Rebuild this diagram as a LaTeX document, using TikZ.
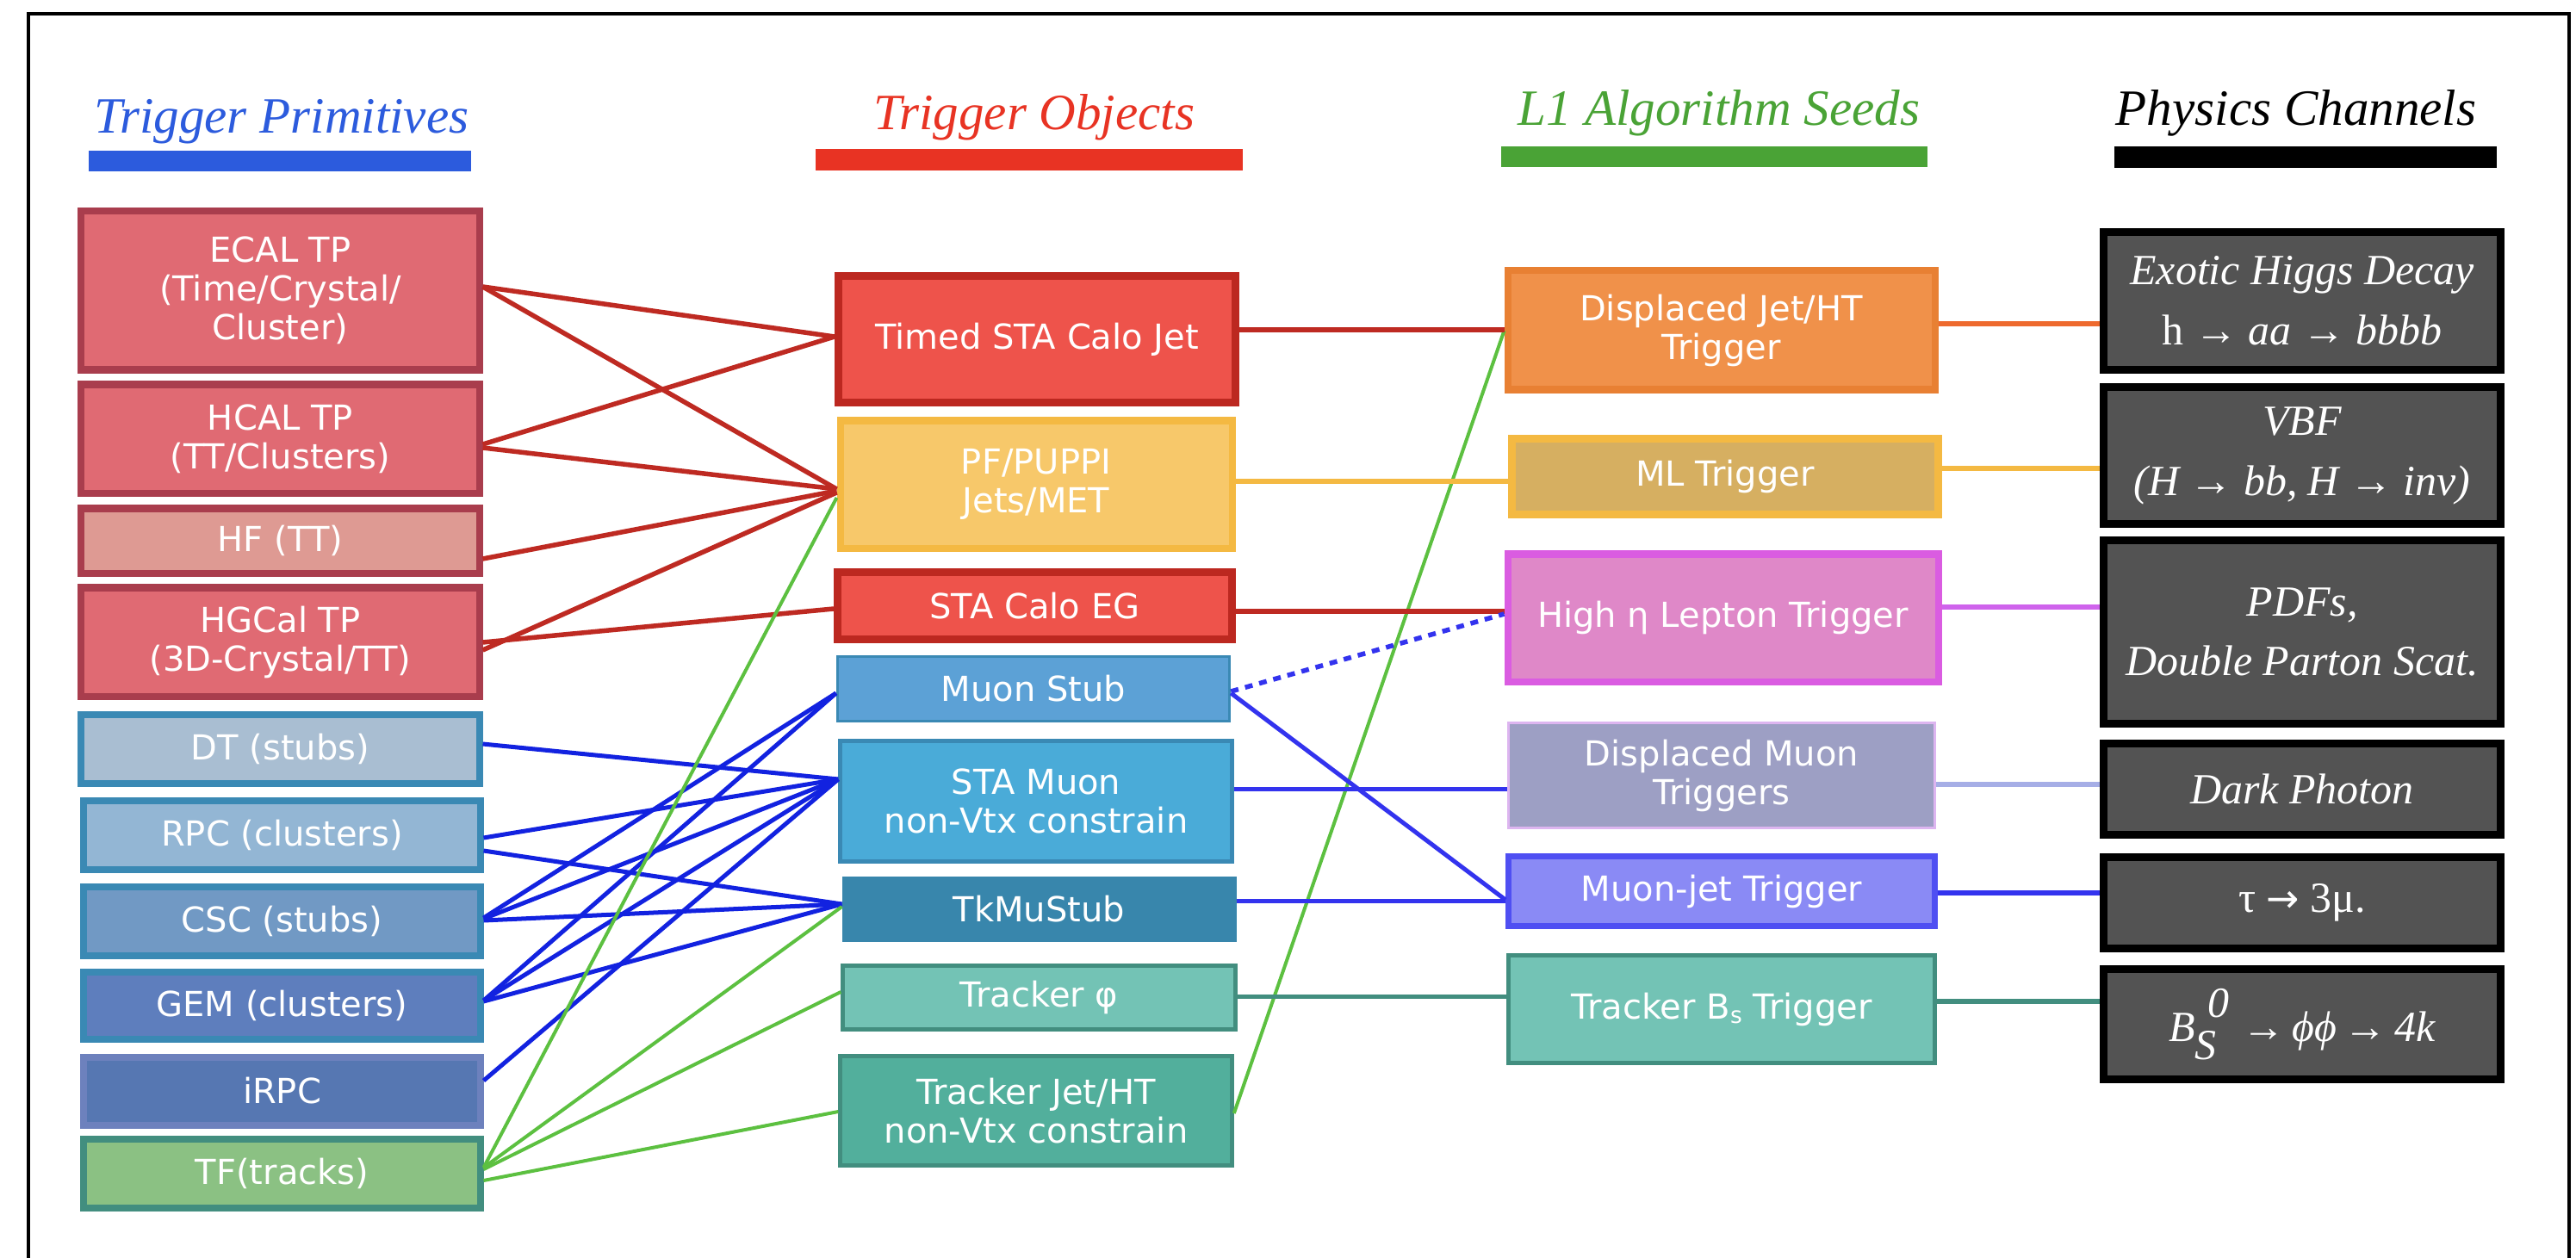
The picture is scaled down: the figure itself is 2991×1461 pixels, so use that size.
\documentclass[tikz,border=0pt]{standalone}
\usepackage{fontspec}
\setmainfont{DejaVu Sans}
\newfontfamily\serif{Liberation Serif}
\definecolor{hblue}{HTML}{2C5BDD}
\definecolor{hred}{HTML}{E83323}
\definecolor{hgreen}{HTML}{4AA336}
\definecolor{calofill}{HTML}{E06A73}
\definecolor{calodraw}{HTML}{A93D4D}
\definecolor{hffill}{HTML}{DE9A93}
\definecolor{mudraw}{HTML}{3A89B4}
\definecolor{dtfill}{HTML}{A9BED2}
\definecolor{rpcfill}{HTML}{93B6D4}
\definecolor{cscfill}{HTML}{7199C4}
\definecolor{gemfill}{HTML}{5E7EBD}
\definecolor{irpcfill}{HTML}{5677B2}
\definecolor{irpcdraw}{HTML}{6D81BD}
\definecolor{tffill}{HTML}{8BC183}
\definecolor{tealdraw}{HTML}{428E7F}
\definecolor{redfill}{HTML}{EE534B}
\definecolor{reddraw}{HTML}{BC2820}
\definecolor{pffill}{HTML}{F7C86A}
\definecolor{pfdraw}{HTML}{F4B942}
\definecolor{stubfill}{HTML}{5CA1D6}
\definecolor{stamufill}{HTML}{4AABD8}
\definecolor{tkmufill}{HTML}{3886AC}
\definecolor{phifill}{HTML}{73C3B5}
\definecolor{trjetfill}{HTML}{52AF9C}
\definecolor{djfill}{HTML}{F0914A}
\definecolor{djdraw}{HTML}{E88033}
\definecolor{mlfill}{HTML}{D6AF61}
\definecolor{etafill}{HTML}{DF88C8}
\definecolor{etadraw}{HTML}{DA5CE1}
\definecolor{dmufill}{HTML}{9D9FC4}
\definecolor{dmudraw}{HTML}{DDB5F0}
\definecolor{mjfill}{HTML}{8A8AF5}
\definecolor{mjdraw}{HTML}{4F4FF2}
\definecolor{chfill}{HTML}{535353}
\definecolor{lred}{HTML}{BE2A22}
\definecolor{lblue}{HTML}{1222E0}
\definecolor{lgreen}{HTML}{5CC040}
\definecolor{lorange}{HTML}{EE6A2E}
\definecolor{lmag}{HTML}{CF63EC}
\definecolor{llav}{HTML}{A6AEE6}
\definecolor{lblue2}{HTML}{3333EE}
\newcommand\bx[7]{%
  \pgfmathsetmacro\bxcx{(#3+#5)/2}%
  \pgfmathsetmacro\bxcy{(#4+#6)/2}%
  \pgfmathsetmacro\bxw{(#5-#3-7)*0.01}%
  \pgfmathsetmacro\bxh{(#6-#4-7)*0.01}%
  \node[#2, minimum width=\bxw cm, minimum height=\bxh cm] (#1) at (\bxcx,\bxcy) {#7};}
\begin{document}
\begin{tikzpicture}[x=0.01cm,y=-0.01cm,
  pbox/.style={draw, inner sep=0pt, align=center, text=white,
    font=\fontsize{11.38pt}{12.8pt}\selectfont},
  thick8/.style={line width=0.08cm},
  thin4/.style={line width=0.045cm},
  chbox/.style={pbox, fill=chfill, draw=black, line width=0.085cm,
    font=\serif\fontsize{14.2pt}{19.9pt}\selectfont},
  hdr/.style={anchor=base, inner sep=0pt, font=\serif\itshape\fontsize{16.8pt}{18pt}\selectfont},
  redl/.style={draw=lred, line width=0.055cm},
  bluel/.style={draw=lblue, line width=0.05cm},
  greenl/.style={draw=lgreen, line width=0.04cm}]
\useasboundingbox (0,0) rectangle (2991,1461);
\fill[white] (0,0) rectangle (2991,1461);
\draw[line width=0.045cm] (33,1461) -- (33,16) -- (2983,16) -- (2983,1461);
% headers
\node[hdr, text=hblue] (h1) at (327,155) {Trigger Primitives};
\node[hdr, text=hred] (h2) at (1201,151) {Trigger Objects};
\node[hdr, text=hgreen] (h3) at (1996,146) {L1 Algorithm Seeds};
\node[hdr, text=black] (h4) at (2666,146) {Physics Channels};
\fill[hblue] (103,175) rectangle (547,199);
\fill[hred] (947,173) rectangle (1443,198);
\fill[hgreen] (1743,170) rectangle (2238,194);
\fill[black] (2455,170) rectangle (2899,195);
% column 1
\bx{ecal}{pbox,thick8,fill=calofill,draw=calodraw}{91}{242}{560}{433}{ECAL TP\\(Time/Crystal/\\Cluster)}
\bx{hcal}{pbox,thick8,fill=calofill,draw=calodraw}{91}{443}{560}{576}{HCAL TP\\(TT/Clusters)}
\bx{hf}{pbox,thick8,fill=hffill,draw=calodraw}{91}{587}{560}{669}{HF (TT)}
\bx{hgcal}{pbox,thick8,fill=calofill,draw=calodraw}{91}{679}{560}{812}{HGCal TP\\(3D-Crystal/TT)}
\bx{dt}{pbox,thick8,fill=dtfill,draw=mudraw}{91}{826}{560}{913}{DT (stubs)}
\bx{rpc}{pbox,thick8,fill=rpcfill,draw=mudraw}{94}{926}{561}{1013}{RPC (clusters)}
\bx{csc}{pbox,thick8,fill=cscfill,draw=mudraw}{94}{1026}{561}{1113}{CSC (stubs)}
\bx{gem}{pbox,thick8,fill=gemfill,draw=mudraw}{94}{1125}{561}{1210}{GEM (clusters)}
\bx{irpc}{pbox,thick8,fill=irpcfill,draw=irpcdraw}{94}{1224}{561}{1310}{iRPC}
\bx{tf}{pbox,thick8,fill=tffill,draw=tealdraw}{94}{1319}{561}{1406}{TF(tracks)}
% column 2
\bx{timed}{pbox,line width=0.09cm,fill=redfill,draw=reddraw}{970}{317}{1438}{471}{Timed STA Calo Jet}
\bx{pf}{pbox,thick8,fill=pffill,draw=pfdraw}{972}{485}{1434}{640}{PF/PUPPI\\Jets/MET}
\bx{eg}{pbox,line width=0.09cm,fill=redfill,draw=reddraw}{969}{661}{1434}{746}{STA Calo EG}
\bx{mustub}{pbox,line width=0.035cm,fill=stubfill,draw=mudraw}{969}{759}{1431}{841}{Muon Stub}
\bx{stamu}{pbox,thin4,fill=stamufill,draw=mudraw}{972}{857}{1434}{1004}{STA Muon\\non-Vtx constrain}
\bx{tkmu}{pbox,line width=0.02cm,fill=tkmufill,draw=tkmufill}{975}{1015}{1438}{1096}{TkMuStub}
\bx{trphi}{pbox,thin4,fill=phifill,draw=tealdraw}{975}{1118}{1438}{1199}{Tracker φ}
\bx{trjet}{pbox,thin4,fill=trjetfill,draw=tealdraw}{972}{1223}{1434}{1357}{Tracker Jet/HT\\non-Vtx constrain}
% column 3
\bx{djet}{pbox,thick8,fill=djfill,draw=djdraw}{1747}{311}{2250}{456}{Displaced Jet/HT\\Trigger}
\bx{ml}{pbox,line width=0.09cm,fill=mlfill,draw=pfdraw}{1752}{506}{2254}{601}{ML Trigger}
\bx{heta}{pbox,thick8,fill=etafill,draw=etadraw}{1747}{640}{2254}{795}{High η Lepton Trigger}
\bx{dmu}{pbox,line width=0.03cm,fill=dmufill,draw=dmudraw}{1748}{836}{2250}{965}{Displaced Muon\\Triggers}
\bx{mujet}{pbox,line width=0.07cm,fill=mjfill,draw=mjdraw}{1748}{991}{2250}{1079}{Muon-jet Trigger}
\bx{trbs}{pbox,thin4,fill=phifill,draw=tealdraw}{1748}{1106}{2250}{1238}{Tracker B\raisebox{-0.25ex}{\fontsize{7.5pt}{8pt}\selectfont s} Trigger}
% column 4
\bx{exo}{chbox}{2439}{266}{2907}{433}{\textit{Exotic Higgs Decay}\\h → \textit{aa} → \textit{bbbb}}
\bx{vbf}{chbox}{2439}{446}{2907}{612}{\textit{VBF}\\\textit{(H → bb, H → inv)}}
\bx{pdf}{chbox}{2439}{624}{2907}{844}{\textit{PDFs,}\\\textit{Double Parton Scat.}}
\bx{dark}{chbox}{2439}{860}{2907}{973}{\textit{Dark Photon}}
\bx{tau}{chbox}{2439}{992}{2907}{1105}{τ {\normalfont\fontsize{13pt}{14pt}\selectfont →} 3μ.}
\bx{bs}{chbox}{2439}{1122}{2907}{1257}{\textit{B\rlap{\raisebox{-0.42em}{S}}\hspace{0.3em}\raisebox{0.55em}{0}\hspace{0.3em}→\,ϕϕ\,→\,4k}}
% connectors: primitives -> objects
\draw[redl] (ecal.east |- 0,333) -- (timed.west |- 0,391);
\draw[redl] (ecal.east |- 0,333) -- (pf.west |- 0,568);
\draw[redl] (hcal.east |- 0,516) -- (timed.west |- 0,391);
\draw[redl] (hcal.east |- 0,520) -- (pf.west |- 0,568);
\draw[redl] (hf.east |- 0,649) -- (pf.west |- 0,570);
\draw[redl] (hgcal.east |- 0,755) -- (pf.west |- 0,572);
\draw[redl] (hgcal.east |- 0,746) -- (eg.west |- 0,707);
\draw[bluel] (dt.east |- 0,864) -- (stamu.west |- 0,905);
\draw[bluel] (rpc.east |- 0,973) -- (stamu.west |- 0,905);
\draw[bluel] (rpc.east |- 0,988) -- (tkmu.west |- 0,1050);
\draw[bluel] (csc.east |- 0,1066) -- (mustub.west |- 0,805);
\draw[bluel] (csc.east |- 0,1067) -- (stamu.west |- 0,905);
\draw[bluel] (csc.east |- 0,1069) -- (tkmu.west |- 0,1050);
\draw[bluel] (gem.east |- 0,1162) -- (mustub.west |- 0,805);
\draw[bluel] (gem.east |- 0,1162) -- (stamu.west |- 0,905);
\draw[bluel] (gem.east |- 0,1163) -- (tkmu.west |- 0,1050);
\draw[bluel] (irpc.east |- 0,1255) -- (stamu.west |- 0,905);
\draw[greenl] (tf.east |- 0,1356) -- (pf.west |- 0,578);
\draw[greenl] (tf.east |- 0,1356) -- (tkmu.west |- 0,1053);
\draw[greenl] (tf.east |- 0,1358) -- (trphi.west |- 0,1152);
\draw[greenl] (tf.east |- 0,1371) -- (trjet.west |- 0,1291);
\draw[greenl] (trjet.east |- 0,1293) -- (djet.west |- 0,384);
% objects -> seeds
\draw[redl] (timed.east |- 0,383) -- (djet.west |- 0,383);
\draw[draw=pfdraw, line width=0.05cm] (pf.east |- 0,559) -- (ml.west |- 0,559);
\draw[redl, line width=0.06cm] (eg.east |- 0,710) -- (heta.west |- 0,710);
\draw[draw=lblue2, line width=0.055cm, dash pattern=on 0.09cm off 0.08cm] (mustub.east |- 0,803) -- (heta.west |- 0,713);
\draw[bluel, draw=lblue2] (mustub.east |- 0,805) -- (mujet.west |- 0,1045);
\draw[bluel, draw=lblue2] (stamu.east |- 0,916) -- (dmu.west |- 0,916);
\draw[bluel, draw=lblue2] (tkmu.east |- 0,1046) -- (mujet.west |- 0,1046);
\draw[draw=tealdraw, line width=0.05cm] (trphi.east |- 0,1157) -- (trbs.west |- 0,1157);
% seeds -> channels
\draw[draw=lorange, line width=0.065cm] (djet.east |- 0,376) -- (exo.west |- 0,376);
\draw[draw=pfdraw, line width=0.06cm] (ml.east |- 0,544) -- (vbf.west |- 0,544);
\draw[draw=lmag, line width=0.06cm] (heta.east |- 0,705) -- (pdf.west |- 0,705);
\draw[draw=llav, line width=0.06cm] (dmu.east |- 0,911) -- (dark.west |- 0,911);
\draw[draw=lblue2, line width=0.06cm] (mujet.east |- 0,1037) -- (tau.west |- 0,1037);
\draw[draw=tealdraw, line width=0.06cm] (trbs.east |- 0,1163) -- (bs.west |- 0,1163);
\end{tikzpicture}
\end{document}
